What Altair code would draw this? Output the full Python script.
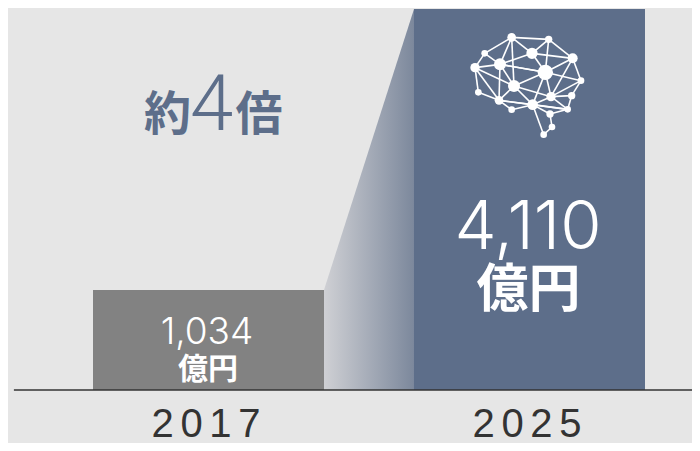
import altair as alt
import pandas as pd

BG = "#e6e6e6"
BLUE = "#5d6e8a"
GRAY = "#828282"

years = [2017, 2025]
revenue = [1034, 4110]
bar_colors = [GRAY, BLUE]

node_x = [185, 296, 104, 246, 368, 150, 75, 286, 393, 192, 85, 303, 365, 147, 248, 185, 353, 300, 306, 281]
node_y = [52, 58, 100, 100, 115, 133, 143, 157, 182, 198, 217, 230, 227, 241, 254, 269, 268, 282, 321, 344]
node_r = [13, 11, 10, 17, 15, 18, 14, 23, 10, 18, 10, 14, 11, 13, 16, 10, 10, 11, 10, 10]
edge_a = [0, 0, 0, 0, 0, 1, 1, 1, 2, 2, 3, 3, 3, 4, 4, 4, 5, 5, 5, 5, 6, 6, 6, 7, 7, 7, 7, 7, 8, 8, 9, 9, 9, 10, 11, 11, 11, 12, 13, 13, 13, 14, 14, 14, 14, 16, 17, 18]
edge_b = [1, 2, 3, 5, 9, 3, 4, 7, 6, 5, 5, 7, 4, 7, 8, 11, 6, 7, 9, 13, 9, 10, 13, 8, 9, 14, 11, 5, 11, 12, 13, 14, 11, 13, 14, 12, 16, 16, 14, 15, 16, 15, 16, 17, 19, 17, 18, 19]

half_bar = 2.878
df_bars = pd.DataFrame({"year": years, "revenue": revenue, "c": [str(y) for y in years]})
df_area = pd.DataFrame({"x": [years[0] + half_bar, years[1] - half_bar], "v": revenue})
df_nodes = pd.DataFrame({"x": node_x, "y": node_y, "r": node_r})
df_edges = pd.DataFrame({
    "x": [node_x[a] for a in edge_a], "y": [node_y[a] for a in edge_a],
    "x2": [node_x[b] for b in edge_b], "y2": [node_y[b] for b in edge_b],
})

xs = alt.Scale(domain=[2012.003, 2029.05], range=[0, 684], zero=False, nice=False, padding=0)
ys = alt.Scale(domain=[0, 1034, 4110], range=[382, 282, 1], nice=False)
bx = alt.Scale(domain=[0, 450], range=[442, 592], zero=False, nice=False)
by = alt.Scale(domain=[0, 390], range=[12, 142], zero=False, nice=False)

area = alt.Chart(df_area).mark_area(
    color=alt.Gradient(gradient="linear", x1=0, x2=1, y1=0, y2=0,
                       stops=[alt.GradientStop(color="#cfd0d4", offset=0),
                              alt.GradientStop(color="#7c889c", offset=1)])
).encode(x=alt.X("x:Q", scale=xs, axis=None), y=alt.Y("v:Q", scale=ys, axis=None, stack=None))

bars = alt.Chart(df_bars).mark_bar(size=231).encode(
    x=alt.X("year:Q", scale=xs, axis=alt.Axis(
        values=years, format="d", title=None, ticks=False, domain=False, grid=False,
        labelFont="Liberation Sans", labelFontSize=40, labelColor="#333333",
        labelPadding=14, labelOffset=-3,
        labelExpr="replace(datum.label, /(\\d)(?=\\d)/g, '$1\\u200a\\u200a')", labelFlush=False, labelOverlap=False)),
    y=alt.Y("revenue:Q", scale=ys, axis=None),
    color=alt.Color("c:N", scale=alt.Scale(domain=[str(y) for y in years], range=bar_colors), legend=None),
)

baseline = alt.Chart(pd.DataFrame({"a": [2012.15], "b": [2029.05], "v": [0]})).mark_rule(
    color="#333333", strokeWidth=1.5
).encode(x=alt.X("a:Q", scale=xs, axis=None), x2="b:Q", y=alt.Y("v:Q", scale=ys, axis=None))

edges = alt.Chart(df_edges).mark_rule(color="white", strokeWidth=1.6).encode(
    x=alt.X("x:Q", scale=bx, axis=None), x2="x2:Q",
    y=alt.Y("y:Q", scale=by, axis=None), y2="y2:Q")

nodes = alt.Chart(df_nodes).mark_circle(color="white", opacity=1).encode(
    x=alt.X("x:Q", scale=bx, axis=None),
    y=alt.Y("y:Q", scale=by, axis=None),
    size=alt.Size("r:Q", legend=None,
                  scale=alt.Scale(type="pow", exponent=2, domain=[0, 24], range=[0, 256])))


def label(text, x, y, size, color="white", font="Noto Sans CJK JP", weight="bold"):
    return alt.Chart(pd.DataFrame({"t": [text]})).mark_text(
        font=font, fontSize=size, fontWeight=weight, color=color, align="center", baseline="alphabetic"
    ).encode(text="t:N", x=alt.value(x), y=alt.value(y))


texts = [
    label("約", 159.5, 122, 47, BLUE),
    label("4", 203.5, 122, 78, BLUE, "Roboto", 300),
    label("倍", 251, 122, 47, BLUE),
    label("1,034", 199, 336, 37, "white", "Inter", 300),
    label("億円", 200, 371, 30),
    label("4,110", 520, 241, 67, "white", "Inter", 300),
    label("億円", 520.5, 299, 52),
]

chart = alt.layer(area, bars, baseline, edges, nodes, *texts).resolve_scale(
    x="independent", y="independent", color="independent", size="independent"
).properties(
    width=684, height=382,
    autosize=alt.AutoSizeParams(type="none"),
    padding={"left": 0, "top": 0, "right": 0, "bottom": 53},
    background=BG,
).configure_view(stroke=None)

chart.save("out.html", embed_options={"renderer": "svg", "actions": False})
